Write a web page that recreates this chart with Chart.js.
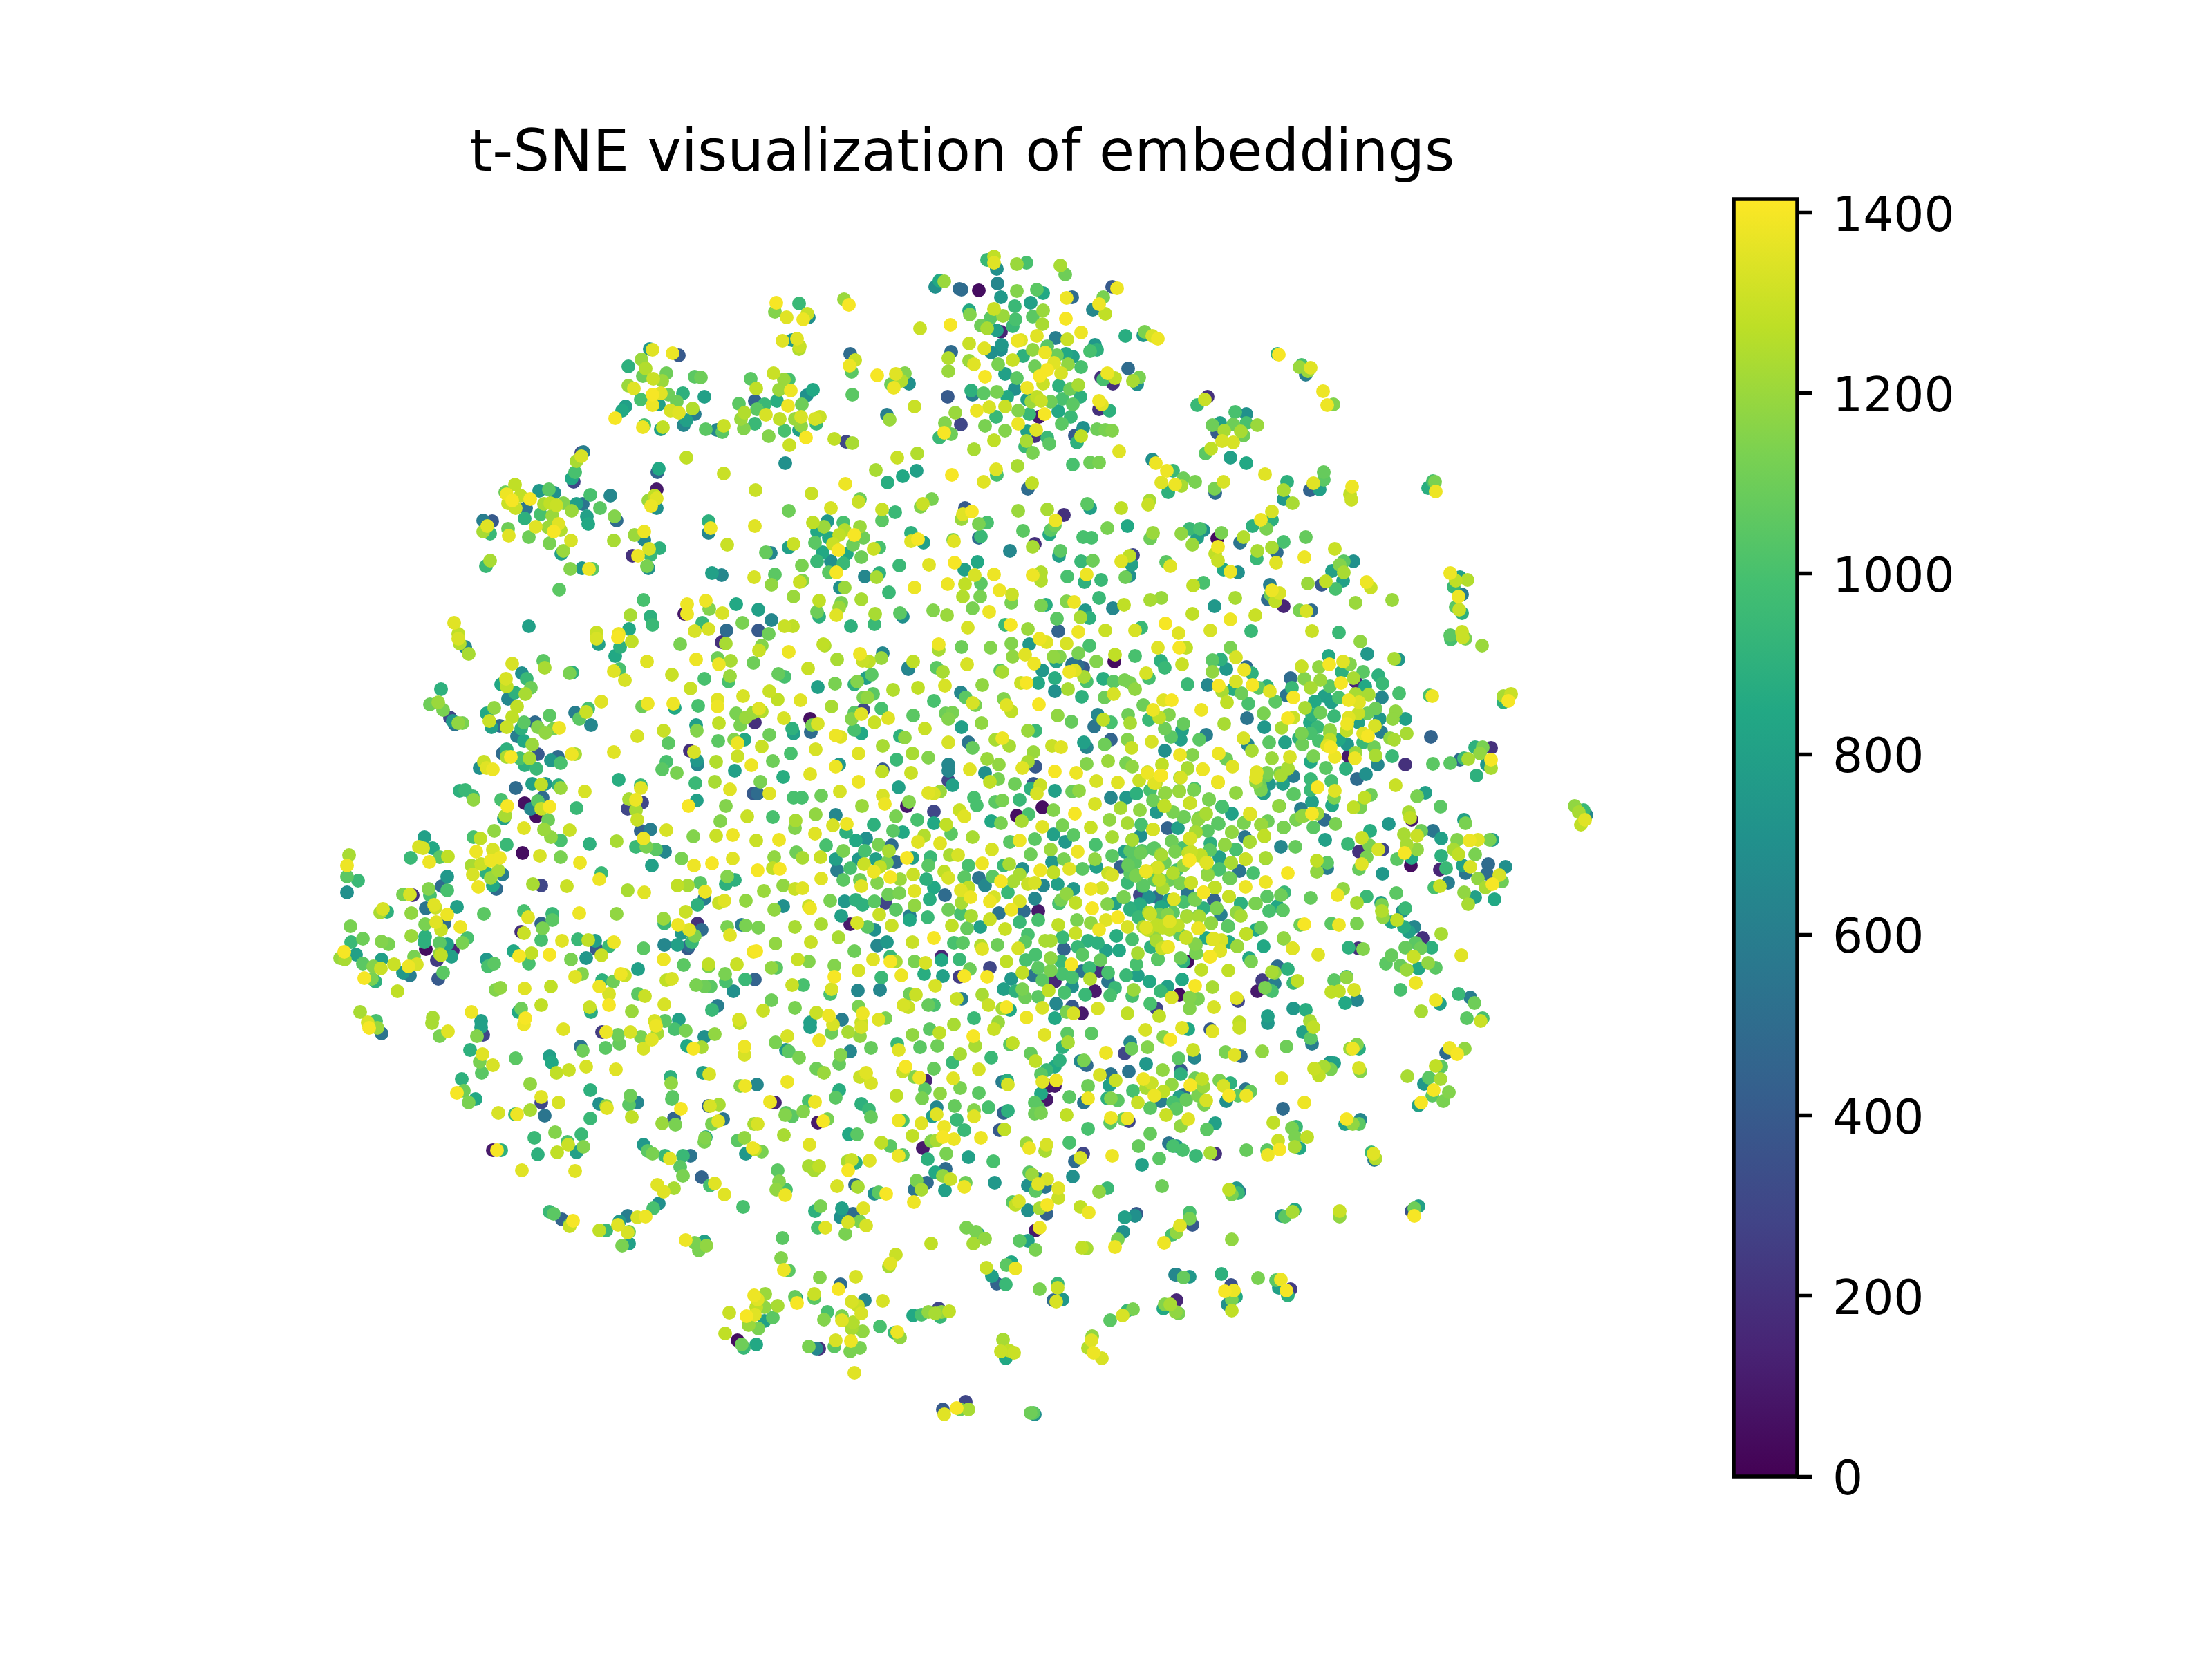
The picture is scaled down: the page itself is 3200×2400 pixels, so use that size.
<!DOCTYPE html>
<html lang="en">
<head>
<meta charset="UTF-8">
<title>t-SNE visualization of embeddings</title>
<script src="https://cdn.jsdelivr.net/npm/chart.js"></script>
<style>
  body { margin: 0; background: #fff; }
  canvas { position: absolute; top: 0; }
</style>
</head>
<body>
<canvas id="embedChart" width="2400" height="2400" style="left:0"></canvas>
<canvas id="colorbar" width="800" height="2400" style="left:2400px"></canvas>
<script>
// points are [x, y, value]. the axes are hidden so the units are just picture units
const northWest = [
[1353,415,700],[1366,407,1200],[1359,406,850],[1388,418,500],[1123,438,1400],[1121,451,1150],[1156,439,950],[1138,459,1350],[1170,459,700],[1162,462,1380],[1168,454,1300],[1221,433,1200],[1228,441,1400],[1331,475,1300],[1375,470,1400],[1146,492,750],[1132,493,1350],[1153,490,1350],[1156,505,1250],[1157,501,1300],[1230,512,500],[1237,521,1300],[1229,529,1380],[1232,538,1050],[1376,509,500],[1372,518,1250],[1372,537,1200],[1371,574,400],[1269,543,1400],[1296,541,1350],[1309,540,1150],[1315,555,700],[1289,556,1100],[1304,551,1250],[1293,561,1380],[1233,571,1050],[1323,588,1300],[1283,600,600],[1287,607,1200],[1382,597,1200],[1367,612,1150],[1366,626,1400],[1359,633,950],[1376,628,1100],
[940,505,750],[944,506,1350],[973,511,1380],[982,514,400],[909,530,900],[928,520,1200],[934,533,1250],[964,540,1100],[930,544,1100],[945,548,1300],[958,551,1200],[909,558,1200],[917,562,1350],[1014,546,1100],[1005,545,1050],[927,578,1000],[944,571,1400],[956,569,1350],[967,571,1100],[988,569,900],[1019,574,800],[953,585,800],[944,586,1380],[979,581,1100],[970,594,1330],[982,597,1350],[1002,591,1250],[1005,599,600],[993,608,800],[989,615,650],[905,588,800],[900,594,850],[890,605,1400],[930,618,1380],[932,615,1000],[959,618,1280],[956,621,800],[1021,621,1050],[1037,622,650],[1045,625,1050],[1047,616,1300],
[1086,548,1050],[1094,562,1280],[1119,540,1300],[1134,549,1200],[1141,549,1000],[1127,564,1200],[1144,565,1380],[1176,564,850],[1167,572,700],[1092,580,450],[1069,584,1050],[1124,580,880],[1106,585,950],[1095,592,1050],[1077,597,1250],[1072,606,1200],[1092,613,950],[1076,620,1150],[1140,587,1380],[1160,585,1100],[1108,600,1330],[1128,606,1280],[1150,606,1200],[1159,603,1330],[1159,616,1180],[1179,606,1330],[1186,603,1300],[1181,613,950],[1135,623,1000],[1156,622,800],[1112,631,1150],[1166,633,1400],[1142,644,1300],[1207,635,1280],[1224,639,300],[1233,641,1230],
[993,662,1280],[953,678,850],[951,683,450],[1047,685,1300],[1136,670,700],[1093,709,1300],[1174,714,1300],[1223,700,1380],[1298,662,1300],[1327,656,1250],[1267,680,1230],[1326,681,800],[1306,689,850],[1284,698,880],[1377,687,1400],
[841,655,300],[844,654,600],[841,660,1330],[834,667,1230],[832,683,1000],[827,692,850],[830,697,300],
[731,712,1100],[745,701,1280],[733,715,1380],[741,724,1400],[735,728,1300],[746,735,1300],[767,722,1400],[753,717,1280],[761,735,550],[780,710,750],[794,708,1050],[802,713,700],[787,729,1230],[796,728,1280],[805,731,1300],[815,728,1150],[834,729,800],[843,729,550],[854,716,1000],[883,717,650],[827,739,1200],[782,744,1000],[799,746,1200],[759,750,900],[849,747,800],[851,758,850],[868,735,1050],[889,747,1150],[892,753,500],
[699,753,600],[712,754,400],[705,761,1350],[699,769,1230],[709,772,950],[735,765,1100],[736,775,1350],[765,777,1100],[775,762,1350],[793,763,1200],[808,758,1350],[801,769,1400],[811,767,1250],[795,786,1130],[826,782,1330],[815,797,1200],[812,801,800],
[950,708,100],[947,717,1280],[950,721,1350],[938,724,1200],[942,732,1380],[950,735,700],[888,782,1230],[918,774,1200],[932,769,1380],[932,781,650],[954,793,900],[939,794,1330],[923,804,1380],[915,804,200],[941,803,950],[936,819,1130],[938,822,700],[709,811,1230],[703,819,950],[825,823,1150],[842,822,750],[852,823,1380],[857,823,1050],[809,853,1050],[931,868,1000],
[1052,788,1300],[1028,764,1380],[1025,754,900],[1025,771,650],[1092,761,1350],[1141,739,1100],[1108,799,1080],[1115,800,650],[1148,787,1300],[1141,792,800],[1030,829,800],[1044,832,650],[1091,835,1330],[1121,831,1050],[1116,846,1180],[1157,842,1300],[1161,840,1150],[1148,863,1200],[1185,869,1280],[1217,872,1130],[1182,885,1100],[1185,892,900],[1210,890,1350],[1214,879,1200],[1246,867,1230],[1266,888,1230],[1265,903,950],[1231,906,900],
[1176,756,1280],[1197,754,750],[1192,762,1200],[1182,769,850],[1220,756,1000],[1222,767,1250],[1214,774,1280],[1236,774,1400],[1244,762,1200],[1249,778,1100],[1199,778,850],[1179,785,1050],[1205,787,1300],[1213,796,1400],[1190,799,850],[1234,788,1100],[1225,801,850],[1182,812,950],[1202,812,700],[1220,815,950],[1246,806,1100],[1199,828,1050],[1210,828,1400],[1160,818,1130],
[1264,794,1300],[1272,792,1000],[1251,834,650],[1268,835,1230],[1272,829,900],[1301,818,950],[1344,817,1350],[1381,814,1400],[1215,850,700],[1222,850,1200],[1286,857,950],[1323,850,1380],[1371,845,1380],[1302,887,1050],[1306,892,700],[1350,883,1150],[1370,890,1200],[1276,737,1300],[1295,741,950],[1276,753,1050],[1202,735,1330],[1242,726,1300],[1244,722,1100],[1335,729,1300],[1348,722,1130],[1332,733,1150],[1318,771,900],[1318,783,1350],[1328,780,1400],[1336,785,800],[1379,781,1130],[1380,783,1350],[1391,751,1200],
[994,874,1380],[994,888,1380],[990,888,100],[1021,869,1380],[1026,881,1150],[1045,887,1330],[1065,874,850],[1097,882,800],[1116,897,650],[1074,901,1130],[912,890,1230],[941,892,900],[944,904,950],[910,910,850],[765,906,800],[657,901,1350],[663,917,1280],[1147,906,1280],[1135,906,1300],[1051,912,500],[1097,912,400],[1025,910,1330],[1005,913,1330],[1016,901,950],[863,915,1300],[895,917,1380],[1112,917,1100]
];
const northEast = [
[1428,376,950],[1438,371,1280],[1438,380,1350],[1442,389,700],[1471,382,1200],[1485,380,1000],[1534,384,1230],[1541,397,1100],[1391,419,500],[1416,420,50],[1443,410,650],[1448,430,750],[1471,421,1150],[1500,419,1050],[1509,424,850],[1491,438,800],[1468,443,950],[1543,431,1380],[1551,430,500],[1616,417,1380],[1609,415,400],[1590,440,1380],[1596,430,1130],[1599,454,1280],[1581,448,650],[1402,449,850],[1403,455,1150],[1438,447,1300],[1451,457,1200],[1509,449,1200],[1494,458,1050],[1542,461,1400],[1508,469,1230],[1469,462,1000],[1465,472,950],[1433,460,1050],[1419,471,1100],[1428,475,1230],[1442,478,800],[1448,480,150],[1500,486,1350],[1564,481,1380],[1527,489,600],[1544,491,1300],[1477,492,1350],[1472,493,1380],[1628,486,880],[1656,480,1130],[1654,485,750],[1667,486,1330],[1675,490,1380],
[1402,497,1300],[1424,504,1350],[1449,499,750],[1448,506,700],[1434,510,700],[1587,506,900],[1577,508,1000],[1584,499,750],[1494,506,1180],[1512,510,1380],[1515,501,1050],[1480,515,900],[1542,512,850],[1552,516,800],[1529,514,1100],[1525,525,1350],[1465,521,1300],[1444,527,1130],[1409,527,1350],[1402,522,1200],[1497,530,1100],[1515,535,1400],[1545,527,1180],[1564,531,1000],[1504,544,1400],[1535,540,1330],[1471,547,1050],[1454,541,800],[1425,545,1400],[1632,533,500],[1602,540,1380],[1593,546,200],[1596,549,1000],[1613,547,1280],[1610,555,200],[1639,551,1230],[1648,546,1130],[1645,556,700],[1509,555,1300],[1486,561,1380],[1532,558,900],[1548,563,1100],[1560,557,1230],[1405,565,900],[1407,571,600],[1423,569,1050],[1442,567,1130],[1457,574,850],[1468,563,700],[1563,574,900],[1537,577,1000],[1500,574,1280],[1492,581,1200],[1506,580,1300],[1520,581,1100],[1486,578,800],[1590,580,1380],[1594,585,1350],[1590,592,200],[1605,594,900],[1552,585,1050],[1413,594,1380],[1431,589,1330],[1454,588,1300],[1473,594,1150],[1489,599,950],[1511,599,1400],[1503,603,100],[1531,595,850],[1549,603,950],[1441,603,950],
[1473,613,1380],[1425,616,1130],[1536,613,1050],[1454,623,1150],[1499,622,1350],[1497,631,200],[1390,614,300],[1486,624,800],[1567,619,700],[1587,621,1100],[1599,622,1130],[1609,623,1150],[1564,631,1280],[1558,640,900],[1555,630,400],[1515,633,950],[1518,642,1050],[1485,638,1230],[1483,646,950],[1494,655,1130],[1438,637,1280],[1409,650,1230],[1619,653,1350],[1552,672,1000],[1577,669,1100],[1590,669,1130],[1472,674,1230],[1441,679,1350],[1442,687,1000],[1423,697,1350],[1493,699,1280],[1487,707,500],
[1850,513,1400],[1848,512,900],[1883,528,1000],[1880,531,1200],[1896,532,1350],[1889,542,600],[1892,537,1200],[1914,566,1380],[1920,586,1380],[1929,585,1150],[1743,578,1300],[1732,586,950],[1747,574,200],[1787,596,1000],[1803,599,700],[1765,612,800],[1754,615,1100],[1784,614,1100],[1803,612,1000],[1819,615,1200],[1761,626,400],[1771,623,1230],[1795,624,1230],[1768,638,1330],[1784,640,1330],[1799,630,1100],[1752,649,1280],[1744,656,1050],[1780,662,800],[1803,670,850],[1830,686,1350],
[1672,670,1380],[1667,665,700],[1688,681,1380],[1697,681,950],[1712,692,1100],[1729,697,1130],[1680,698,1350],[1700,701,1380],[1709,703,1230],[1690,712,900],[1770,697,1330],[1757,707,1130],[1758,713,500],[1862,697,900],[1857,709,1230],[1857,722,750],[1870,728,1230],[1895,709,450],[1909,708,800],[1915,683,1080],[1915,694,1050],[1900,699,1350],[1956,704,1380],[1953,715,1280],[1955,723,1300],[2073,696,1000],[2076,697,1130],[2066,706,880],[2077,711,1380],
[1663,724,1230],[1661,730,1300],[1573,729,1050],[1577,735,800],[1539,745,200],[1515,737,1230],[1473,739,1200],[1622,735,1280],[1527,753,1380],[1526,760,1100],[1520,767,1050],[1518,773,850],[1428,756,1000],[1416,758,1130],[1406,740,1400],[1393,744,1350],[1396,735,400],[1480,768,1050],[1419,776,950],[1416,778,500],[1602,764,1130],[1631,761,850],[1567,777,1000],[1579,778,1000],[1668,771,1200],[1664,779,1100],[1497,787,200],[1494,791,1230],[1461,797,650],[1534,797,1050],[1532,804,800],[1414,813,850],[1709,772,1180],[1721,765,950],[1736,765,1000],[1732,778,800],[1725,788,1200],[1741,767,700],[1767,771,1130],[1761,779,50],[1762,791,1380],[1758,801,1280],[1762,811,1300],[1799,777,1250],[1794,785,550],[1812,761,900],[1840,740,1330],[1824,752,1380],[1840,752,900],[1832,765,1130],[1857,784,1000],[1889,777,1080],[1819,797,1230],[1818,808,950],[1840,792,1230],[1847,799,500],[1846,814,1350],[1887,806,1380],[1931,794,1300],
[1687,813,1050],[1693,819,1350],[1564,812,950],[1581,811,1100],[1622,812,1350],[1634,804,1280],[1639,803,300],[1637,817,800],[1944,812,1050],[1958,812,700],[1938,817,1150],[1927,826,800],[1944,828,1230],[1943,840,800],[1780,827,1380],[1770,824,850],[1791,828,700],[1410,832,1330],[1438,831,1380],[1395,824,800],[1494,832,1380],[1506,828,1250],[1506,840,1250],[1544,834,1000],[1572,831,1380],[1569,842,900],[1593,839,950],[1628,835,1100],[1634,833,700],[1396,845,1280],[1419,844,1050],[1446,854,1380],[1464,860,1300],[1463,872,1130],[1418,863,1130],[1393,863,1250],
[1726,847,1280],[1741,843,1000],[1892,844,1200],[1918,841,1280],[1912,846,400],[1932,852,1000],[1977,842,1380],[1983,850,1300],[2014,868,1200],[1961,872,1200],[2098,829,1380],[2112,835,800],[2106,840,1280],[2123,839,1250],[2103,849,950],[2115,860,600],[2110,863,1380],[2106,878,1050],[2111,882,1300],[2115,887,900],[1840,854,1380],[1851,858,1330],[1837,846,600],[1834,867,500],[1845,870,1280],[1857,877,150],[1838,860,1100],[1880,883,1130],[1890,884,1330],[1897,883,500],[1816,890,1300],[1787,865,1230],[1757,877,750],[1725,888,1280],[1780,896,1380],[1686,902,1400],[1751,912,1330],[1705,916,1350],[1642,912,1330],[1651,908,950],[1599,912,1300],[1560,914,1380],[1531,913,450],[1529,895,1050],[1563,893,1230],[1576,894,900],[1570,883,750],[1487,910,1200],[1462,904,1400],[1454,904,950],[1400,908,1330],[1431,885,1380],[1407,880,1130],[1506,876,1130],[1513,875,880],[1543,870,1150],[1554,871,1380],[1590,865,950],[1610,880,650],[1626,875,1280],[1664,868,1230],[1680,865,1200],[1810,913,950],[1898,913,1300],[1937,915,950],[2115,914,1300],[2098,919,1050]
];
const west = [
[678,946,1230],[665,931,1250],[663,924,1330],[673,936,650],[786,956,1050],[788,966,1230],[741,960,1330],[824,974,1130],[828,973,900],[936,957,1350],[888,971,1350],[896,968,1000],[904,984,1330],[890,949,850],[897,936,900],[914,928,1280],[866,932,800],[863,924,1330],[894,922,1400],[984,932,1130],[1007,954,1380],[972,976,1300],[1019,982,1000],[999,996,1300],[1040,961,1380],[1038,952,1100],[1057,956,1230],[1050,931,1230],[1044,929,200],[1056,978,1200],[1054,986,1000],
[732,982,1330],[733,993,1280],[725,990,850],[755,974,700],[762,982,950],[768,995,1100],[760,1004,1230],[745,1002,900],[735,1011,650],[748,1022,1280],[715,1024,1180],[704,1032,850],[708,1043,1300],[711,1052,800],[723,1050,500],[733,1052,1300],[741,1037,1280],[758,1045,1050],[754,1054,900],[748,1065,600],[758,1072,850],[770,1077,1200],[774,1045,500],[778,1052,1150],[795,1035,1050],[789,1060,1180],[809,1053,1380],[801,1054,1130],
[638,997,900],[634,1016,1200],[622,1019,1100],[641,1027,1130],[651,1038,300],[655,1043,750],[658,1048,550],[663,1046,1180],[669,1046,1130],[832,1031,600],[848,1030,1300],[851,1025,1000],[838,1040,1050],[855,1049,650],[870,1015,1350],[937,1018,1380],[929,1022,1100],[974,1018,1380],[976,1024,850],[1010,1021,1000],[1038,1012,1350],[1038,1022,1380],[1075,1007,1330],[1065,1032,1130],[1079,1038,1200],[1071,1049,1130],[1089,1031,1200],[1007,1049,800],[1008,1057,1150],[1040,1046,1280],[960,1057,1300],[922,1065,1330],[967,1075,1050],[888,1088,1350],[1039,1072,1050],[1062,1070,1150],[1067,1075,1380],[1077,1070,850],[1004,1088,1330],[998,1086,200],[1008,1100,750],[1009,1106,650],[1036,1102,1250],[1067,1094,1300],[1063,1115,800],[1087,1107,1380],[964,1102,1000],[958,1113,1050],[979,1118,1130],
[733,1084,900],[727,1090,500],[733,1095,1230],[739,1095,1400],[766,1097,1230],[759,1107,900],[776,1112,950],[778,1091,400],[752,1097,1000],[797,1100,750],[811,1104,1000],[807,1095,500],[827,1091,1380],[832,1091,1230],[700,1102,1300],[704,1111,1350],[713,1113,1380],[694,1111,700],[746,1140,500],[770,1134,800],[783,1135,1280],[789,1134,750],[811,1140,1200],[808,1136,900],[846,1145,1330],[895,1128,880],[927,1140,1350],[927,1136,950],[665,1144,900],[673,1143,950],[685,1157,1180],[684,1152,950],[725,1157,1000],[734,1166,1400],[731,1180,1230],[729,1184,800],[759,1162,60],[768,1170,650],[776,1181,60],[778,1159,1050],[785,1154,500],[783,1170,1300],[795,1167,1400],[793,1186,1100],[834,1169,950],[910,1156,1230],[920,1157,1380],[929,1161,300],[908,1170,300],[920,1172,1230],[922,1186,1300],[1008,1158,800],[996,1166,1400],[1050,1166,1150],[1034,1131,1230],[1006,1133,950],[1056,1142,1350],[1090,1148,400],[1042,1188,1150],[1081,1181,1300],
[715,1202,1180],[685,1211,1000],[695,1213,1280],[614,1211,800],[594,1241,950],[606,1225,1330],[612,1227,1330],[626,1227,850],[636,1240,1050],[648,1239,1280],[621,1247,1380],[733,1222,950],[713,1229,1330],[689,1232,1380],[756,1234,50],[758,1198,1350],[781,1238,1330],[811,1240,1130],[839,1248,1380],[853,1221,900],[824,1201,1300],[787,1200,1200],[797,1211,1180],[811,1216,1000],[892,1217,1230],[964,1201,1330],[941,1200,600],[927,1202,450],[931,1213,1380],[920,1225,950],[935,1225,1130],[949,1229,1050],[962,1232,650],[943,1252,800],[986,1242,1130],[1004,1252,1380],[1030,1249,1400],[1060,1242,1350],[1003,1210,1150],[1036,1209,1300],[1060,1208,1380],
[505,1237,1230],[502,1252,1380],[502,1268,1050],[518,1274,950],[502,1291,700],[684,1265,1330],[692,1283,1380],[682,1252,1230],[696,1250,1300],[710,1245,1380],[723,1241,1380],[704,1263,900],[721,1259,1230],[727,1265,600],[710,1270,1200],[713,1281,850],[718,1286,500],[771,1279,1230],[783,1281,300],[820,1282,1300],[867,1272,1380],[870,1263,950],[908,1288,1230],[932,1291,1350],
[647,1268,750],[647,1288,1000],[639,1282,500],[620,1286,1150],[628,1309,1350],[630,1313,1300],[661,1312,800],[647,1323,1380],[616,1314,550],[593,1294,1330],[583,1294,1130],[597,1295,200],[622,1295,1000],[554,1315,1330],[550,1320,1230],[560,1319,900],[595,1321,1180],[700,1322,1050],[764,1327,1350],[758,1318,1000],[799,1331,1050],[799,1322,950],[783,1336,450],[785,1343,1130],[758,1350,1300],[754,1348,200],[783,1360,1000],[838,1321,1380],[892,1322,1180],
[615,1337,1130],[631,1334,1350],[638,1345,1300],[615,1355,900],[614,1363,900],[643,1336,500],[666,1341,1380],[676,1357,1000],[669,1364,1130],[595,1354,1200],[507,1340,1130],[525,1358,1100],[508,1363,950],[552,1362,1150],[562,1366,1130],[636,1364,1050],[616,1373,50],[636,1380,1180],[647,1366,800],[655,1375,150],[653,1384,800],[638,1382,1280],[632,1389,250],[641,1407,1050],[634,1416,400],[498,1377,1400],[492,1386,1200],[499,1388,1230],[515,1381,800],[525,1394,1050],[540,1398,1150],[552,1388,800],[551,1401,1300],[570,1395,1300],[593,1411,600],[583,1407,750],[591,1398,1380],[603,1395,1330],[599,1384,1130],[527,1415,1400],[538,1416,1130],[543,1420,900],[575,1434,1280],
[704,1388,750],[706,1398,1000],[715,1394,1050],[743,1376,850],[751,1383,1400],[769,1379,1280],[795,1381,1400],[765,1394,1000],[826,1388,1130],[848,1386,750],[870,1382,1300],[863,1373,400],[888,1363,1380],[881,1369,950],[851,1360,1280],[836,1359,950],[813,1361,1350],[861,1361,800],[931,1372,1050],[961,1367,650],[980,1367,800],[997,1368,500],[960,1388,1380],[989,1396,1050],[1025,1395,1280],[1066,1395,1300],[960,1329,1200],[961,1336,950],[992,1319,1300],[1009,1309,900],[1020,1290,1380],[1019,1300,600],[1013,1277,1050],[995,1281,1230],[980,1281,1280],[1040,1306,1300],[1048,1303,1350],[1079,1303,1180],[1052,1268,1150],[1063,1273,900],[1050,1279,900],[981,1338,1380],[997,1345,1350],[1015,1345,500],[1009,1336,200],[1005,1354,1130],[1001,1363,950],[995,1372,400],[986,1350,750],[1052,1341,1130],[1056,1353,1350],[1079,1339,1130],[1073,1338,600],[1090,1377,1380],[1025,1398,1130],[1049,1409,1130],[1050,1420,1000],[1078,1417,950],[1061,1434,700],[1007,1425,1130],[1028,1427,1050],[1019,1427,1100],[964,1418,1280],[972,1416,1330],[923,1402,800],[898,1409,1380],[904,1411,1300],[887,1420,1100],[871,1418,900],[867,1427,1380],[881,1438,1330],[881,1454,1400],[853,1457,1300],[855,1464,880],[832,1413,1350],[842,1409,1150],[933,1441,1300],[923,1438,1050],[961,1453,1330],[914,1463,1200],[724,1429,1180],[717,1432,1150],[759,1430,1350],[797,1427,1280],[754,1459,1100],[750,1464,850],[760,1473,1400],[783,1454,1280],[626,1472,1230],[682,1464,1380],[521,1464,1230],[544,1477,1000],[532,1479,1330],[1030,1461,950],[1038,1455,600],[1069,1475,1330],[982,1475,800],[962,1477,1050],[947,1477,1330],[696,1477,800]
];
const centre = [
[1098,941,1300],[1090,959,1100],[1102,934,1150],[1141,943,1380],[1191,932,1280],[1193,934,1250],[1211,954,1230],[1244,946,1380],[1248,956,1300],[1257,957,1280],[1275,952,1200],[1277,945,650],[1321,957,1280],[1314,966,650],[1358,932,1380],[1358,940,1230],[1391,936,1100],[1433,937,1150],[1463,931,1150],[1465,950,1180],[1483,947,1350],[1489,932,750],[1504,924,1380],[1514,929,1350],[1543,931,1330],[1576,934,1000],[1560,945,1130],[1524,950,1180],[1533,950,1150],[1496,960,1380],[1508,970,750],[1528,957,800],[1559,963,500],[1551,961,550],[1613,947,1280],[1612,957,50],[1642,949,1000],[1675,937,1350],[1679,956,900],[1685,966,950],[1658,974,1330],[1662,981,1000],[1586,957,1150],
[1126,975,1080],[1135,979,1000],[1169,967,1300],[1261,976,1050],[1253,981,800],[1240,986,1150],[1236,990,900],[1314,968,600],[1355,966,1050],[1364,972,1230],[1399,961,1330],[1447,970,1050],[1450,972,1230],[1485,988,1400],[1477,988,1300],[1502,988,850],[1526,981,880],[1547,972,1380],[1555,970,1350],[1567,966,400],[1568,979,1230],[1572,986,1000],[1545,997,1230],[1526,1000,700],[1565,1008,900],[1596,982,880],[1627,984,1130],[1635,988,1130],[1642,997,1180],[1611,986,1050],[1611,1004,1330],[1598,1009,1100],[1421,991,1180],[1367,992,1330],[1328,995,1280],[1292,998,1250],[1208,989,1130],[1183,994,800],[1113,1000,1300],[1125,1012,1280],[1158,1013,1350],[1203,1022,1230],[1263,1004,1050],[1249,1009,1130],[1255,1009,1180],[1351,1014,1000],[1390,1002,650],[1397,1009,1050],[1407,1017,1330],[1411,1020,1130],[1452,1011,1150],[1456,1020,1350],[1463,1029,1280],[1503,1019,1400],
[1098,1025,1350],[1102,1029,1250],[1134,1039,1330],[1092,1045,200],[1172,1040,60],[1175,1049,1130],[1183,1047,1330],[1173,1059,500],[1146,1054,900],[1148,1061,800],[1113,1063,1100],[1236,1031,1050],[1232,1040,1150],[1246,1033,1350],[1249,1027,300],[1275,1025,1000],[1265,1045,1300],[1285,1039,1350],[1236,1056,1000],[1246,1061,850],[1209,1064,1380],[1216,1066,1350],[1321,1035,1050],[1338,1054,1300],[1368,1032,1100],[1378,1031,1130],[1372,1040,1150],[1391,1052,800],[1420,1046,1180],[1530,1035,1180],[1550,1044,1080],[1588,1034,650],[1596,1041,1280],[1607,1045,1000],[1583,1051,550],[1632,1034,1100],[1635,1046,1230],[1654,1020,1100],[1668,1027,1380],[1662,1041,950],[1677,1038,1280],[1683,1013,1350],[1695,1013,1400],[1691,1034,1150],[1685,1054,1100],[1487,1057,1200],[1498,1057,950],[1309,1067,1180],[1302,1065,900],
[1277,1079,1230],[1242,1090,1350],[1180,1084,1330],[1144,1090,1000],[1102,1080,1300],[1118,1101,1100],[1133,1124,880],[1172,1120,1350],[1209,1109,1380],[1214,1106,750],[1277,1113,400],[1276,1116,1280],[1297,1099,950],[1320,1090,1230],[1343,1096,1150],[1318,1118,1300],[1372,1074,1330],[1401,1074,550],[1407,1082,1080],[1372,1106,650],[1372,1115,650],[1403,1113,1350],[1428,1098,1200],[1445,1106,1180],[1440,1070,1230],[1450,1068,1380],[1460,1079,1230],[1495,1088,1200],[1479,1111,1350],[1487,1102,1230],[1498,1109,400],[1522,1079,1300],[1535,1081,1350],[1568,1074,800],[1572,1081,650],[1607,1070,450],[1598,1077,1100],[1631,1070,1150],[1637,1082,1300],[1666,1073,1330],[1685,1086,700],[1694,1066,1050],[1526,1116,1400],[1557,1118,1380],[1572,1105,1150],[1603,1101,1200],[1629,1104,1130],[1638,1109,1180],[1660,1118,1380],[1679,1122,1400],[1681,1106,1280],[1670,1133,1350],[1425,1118,700],[1432,1131,1280],[1444,1127,1130],
[1100,1131,1130],[1113,1148,1350],[1096,1148,500],[1148,1154,1000],[1160,1154,1000],[1188,1151,1100],[1215,1145,1330],[1242,1131,1380],[1247,1166,1200],[1277,1151,1330],[1280,1163,1380],[1300,1139,800],[1315,1160,1150],[1312,1166,100],[1343,1147,1350],[1351,1148,1330],[1360,1145,1200],[1378,1136,800],[1372,1129,300],[1409,1154,1000],[1413,1165,1000],[1440,1160,1050],[1450,1158,1130],[1468,1134,1100],[1475,1157,950],[1491,1141,900],[1495,1134,400],[1505,1136,1300],[1500,1148,1330],[1508,1168,60],[1526,1144,800],[1524,1172,1150],[1551,1145,1100],[1561,1144,1180],[1607,1154,650],[1629,1154,750],[1586,1130,1330],[1617,1132,1350],[1648,1129,1300],[1584,1163,1330],[1644,1148,900],[1664,1143,1000],[1685,1148,1130],[1668,1158,1100],[1684,1166,1280],[1621,1169,1230],[1649,1172,1180],
[1118,1182,1000],[1151,1187,1230],[1150,1198,1150],[1180,1178,1180],[1209,1179,650],[1205,1194,1330],[1225,1192,1380],[1224,1204,900],[1238,1216,850],[1253,1213,700],[1264,1193,900],[1296,1181,1130],[1292,1202,1050],[1306,1204,850],[1327,1186,1000],[1351,1174,300],[1351,1191,850],[1369,1193,1280],[1376,1206,1050],[1337,1209,1250],[1328,1218,1350],[1360,1220,1350],[1388,1172,1300],[1395,1181,1350],[1434,1188,850],[1448,1191,1130],[1488,1178,1000],[1471,1180,60],[1478,1188,1230],[1508,1196,1350],[1537,1194,1130],[1555,1177,1400],[1578,1197,1300],[1605,1186,1180],[1631,1191,1230],[1651,1193,1000],[1668,1200,1330],[1673,1175,750],[1689,1198,450],[1524,1207,800],[1553,1208,1050],[1541,1218,750],[1497,1214,1050],[1475,1216,1380],[1461,1218,1050],[1407,1211,1230],[1127,1215,1380],[1179,1206,1350],[1094,1216,1300],[1609,1211,1230],[1638,1215,1100],[1650,1209,700],
[1195,1223,1000],[1152,1233,1100],[1161,1241,1230],[1187,1240,1300],[1120,1240,1180],[1118,1256,1280],[1128,1257,1400],[1096,1259,1400],[1211,1259,600],[1209,1243,800],[1220,1231,1130],[1230,1256,1000],[1251,1231,1000],[1271,1222,1130],[1286,1231,1230],[1290,1223,500],[1312,1241,1400],[1320,1241,800],[1250,1250,1300],[1264,1261,1380],[1273,1254,1280],[1283,1248,1130],[1296,1247,500],[1242,1243,750],[1267,1243,800],[1346,1240,950],[1343,1252,1050],[1321,1265,1300],[1386,1237,1330],[1374,1237,1230],[1421,1249,1380],[1401,1252,1000],[1435,1229,1330],[1460,1250,1230],[1452,1252,950],[1479,1257,700],[1475,1265,1230],[1366,1261,1280],[1491,1236,1100],[1520,1229,1200],[1522,1247,750],[1505,1259,1380],[1524,1262,1280],[1539,1243,1130],[1547,1257,1350],[1566,1257,1050],[1559,1232,1380],[1584,1243,1180],[1586,1254,800],[1609,1238,1050],[1585,1222,1000],[1627,1232,800],[1652,1231,1000],[1670,1227,1050],[1679,1236,1130],[1621,1254,450],[1633,1250,1050],[1642,1241,1050],[1658,1261,1350],[1673,1256,1250],[1685,1248,1100],[1603,1263,1300],[1609,1266,1330],
[1133,1281,1180],[1105,1289,1200],[1150,1286,1300],[1161,1285,1350],[1188,1271,1350],[1220,1273,1050],[1201,1303,1130],[1222,1304,750],[1238,1302,900],[1248,1309,900],[1244,1273,1100],[1246,1282,1350],[1269,1277,1150],[1288,1269,1400],[1302,1272,1200],[1323,1289,1350],[1285,1294,1100],[1301,1292,1130],[1265,1304,1050],[1281,1306,300],[1296,1316,1050],[1323,1310,1180],[1340,1272,900],[1351,1284,850],[1345,1301,880],[1367,1295,500],[1372,1270,1330],[1395,1269,1050],[1416,1270,550],[1425,1281,650],[1390,1288,1350],[1401,1284,1280],[1404,1298,1380],[1391,1306,1230],[1436,1268,1050],[1448,1275,1400],[1466,1275,1230],[1458,1291,950],[1487,1279,1300],[1497,1277,1330],[1509,1281,650],[1530,1279,800],[1553,1286,750],[1497,1300,650],[1475,1304,1330],[1463,1316,1380],[1438,1298,1330],[1432,1304,1380],[1535,1302,1130],[1543,1293,1180],[1532,1307,1000],[1556,1306,1280],[1578,1286,1380],[1594,1285,1330],[1580,1314,1400],[1602,1308,1150],[1613,1307,800],[1631,1277,950],[1626,1298,1130],[1649,1295,300],[1662,1298,700],[1635,1314,880],[1649,1309,880],[1644,1266,1100],[1670,1273,1050],[1681,1277,1130],[1691,1273,1100],[1673,1298,500],[1691,1302,750],
[1120,1316,1180],[1133,1311,700],[1170,1311,1300],[1172,1314,1380],[1217,1325,800],[1188,1337,1230],[1150,1341,1230],[1097,1342,1130],[1240,1335,1330],[1230,1337,100],[1255,1341,1050],[1265,1345,700],[1272,1323,1300],[1290,1339,1300],[1316,1331,850],[1316,1325,600],[1342,1327,950],[1372,1316,1100],[1390,1322,1000],[1405,1325,1230],[1418,1341,800],[1399,1343,1080],[1377,1339,1280],[1432,1330,1300],[1445,1321,550],[1454,1344,1300],[1481,1318,500],[1502,1318,100],[1502,1331,1000],[1475,1334,950],[1531,1338,1280],[1558,1331,1130],[1556,1350,1300],[1578,1335,1180],[1590,1345,1380],[1600,1331,1350],[1617,1327,1400],[1631,1341,1330],[1615,1354,880],[1537,1356,950],[1638,1359,1000],[1654,1341,1230],[1664,1322,1300],[1650,1323,880],[1677,1323,1100],[1660,1345,1280],[1673,1338,1280],[1689,1323,1150],[1692,1345,1250],
[1483,1363,1050],[1473,1372,1330],[1487,1352,1000],[1512,1361,1230],[1520,1361,1230],[1574,1361,900],[1588,1364,900],[1559,1370,950],[1566,1381,1050],[1539,1373,450],[1600,1375,800],[1619,1375,850],[1646,1379,1230],[1592,1389,1080],[1644,1395,1000],[1675,1388,1000],[1681,1372,1300],[1689,1370,1280],[1320,1363,1300],[1351,1357,1400],[1380,1364,1000],[1393,1364,1050],[1419,1368,1250],[1421,1373,1350],[1443,1367,1100],[1269,1368,650],[1283,1363,750],[1173,1363,1300],[1213,1356,1230],[1122,1365,1180],[1094,1376,1400],[1236,1376,1100],[1263,1388,1350],[1154,1388,1300],[1170,1391,1150],
[1288,1384,950],[1288,1391,1400],[1296,1391,1230],[1323,1391,1130],[1339,1393,1330],[1337,1409,880],[1362,1384,150],[1362,1389,850],[1364,1412,800],[1388,1388,950],[1403,1402,1100],[1395,1412,1400],[1388,1413,250],[1432,1400,300],[1428,1413,1400],[1456,1391,1280],[1484,1389,1000],[1498,1381,1000],[1520,1386,1180],[1535,1391,950],[1550,1395,1400],[1479,1407,1280],[1495,1411,550],[1502,1400,1050],[1520,1404,1130],[1508,1418,1050],[1537,1409,1000],[1551,1414,1000],[1526,1420,150],[1565,1405,550],[1576,1400,950],[1577,1416,1250],[1590,1405,200],[1603,1407,1000],[1629,1411,950],[1646,1411,800],[1663,1420,850],[1603,1420,550],[1613,1429,950],[1584,1434,100],[1570,1439,950],[1606,1440,1000],[1640,1432,1200],[1638,1441,1000],[1679,1434,950],[1689,1427,800],[1551,1427,700],[1540,1436,1000],[1517,1433,1280],[1502,1442,1050],[1479,1431,1130],[1463,1416,750],[1469,1434,900],[1452,1431,800],[1483,1443,1100],
[1146,1425,1300],[1162,1425,1000],[1116,1400,1180],[1123,1400,1050],[1207,1397,1150],[1207,1413,1400],[1203,1431,1330],[1201,1438,1000],[1242,1404,1330],[1275,1414,950],[1273,1432,650],[1241,1433,650],[1304,1411,1380],[1353,1426,1330],[1092,1417,450],[1325,1439,1300],[1316,1438,1100],
[1391,1445,600],[1384,1445,1300],[1421,1439,1230],[1430,1454,1300],[1456,1457,1400],[1450,1459,1230],[1461,1461,850],[1528,1452,650],[1508,1458,1330],[1553,1466,1330],[1551,1456,400],[1565,1466,100],[1588,1459,1330],[1543,1464,1130],[1485,1472,1380],[1526,1473,850],[1409,1473,950],[1444,1479,1200],[1343,1454,1080],[1351,1454,1000],[1307,1454,1330],[1314,1457,1300],[1242,1456,1130],[1248,1466,1380],[1246,1479,1300],[1271,1475,1350],[1281,1473,1130],[1218,1475,600],[1199,1469,1380],[1181,1465,1300],[1172,1479,800],[1150,1458,1130],[1104,1462,1300],[1116,1447,1100],[1631,1466,1280],[1664,1452,1000],[1673,1459,300],[1695,1443,1330],[1677,1470,1280]
];
const coreCluster = [
[1722,1213,1330],[1720,1245,1400],[1730,1203,1150],[1668,1200,1230],[1695,1217,1100],[1680,1237,1230],[1700,1232,1130],[1750,1230,1050],[1737,1237,1280],[1723,1232,1300],[1745,1248,1330],[1638,1215,1230],[1652,1232,1050],[1668,1228,1050],[1632,1252,1080],[1643,1267,1130],[1658,1260,1380],[1675,1255,1330],[1677,1273,1280],[1692,1273,1050],[1682,1285,1230],[1653,1282,950],[1707,1278,1100],[1723,1277,1300],[1747,1266,1180],[1763,1258,1000],[1781,1248,1230],[1772,1222,1180],[1788,1229,1000],[1757,1284,1230],[1741,1291,1400],[1778,1270,1080],[1778,1297,1300],[1795,1307,850],[1817,1307,1130],[1698,1301,1350],[1729,1302,1130],[1712,1305,1000],[1680,1312,850],[1649,1308,800],[1635,1316,900],[1625,1298,1130],[1663,1322,1230],[1647,1327,950],[1678,1330,950],[1697,1320,1050],[1717,1326,1230],[1735,1326,1230],[1760,1314,1130],[1752,1336,1180],[1733,1343,1350],[1692,1333,1350],[1692,1343,1280],[1658,1342,1350],[1682,1342,1280],[1670,1350,1180],[1707,1352,1050],[1716,1357,1280],[1690,1370,1380],[1682,1370,1180],[1665,1370,900],[1675,1387,1050],[1730,1367,1130],[1730,1379,1050],[1750,1384,1400],[1765,1376,1300],[1756,1358,1350],[1767,1360,1330],[1790,1369,1180],[1777,1340,1000],[1803,1351,1180],[1857,1358,1130],[1870,1372,1330],
[1685,1166,1280],[1697,1175,1130],[1706,1144,1130],[1686,1147,1180],[1660,1117,1280],[1680,1122,1400],[1672,1133,1280],[1707,1125,1180],[1718,1112,1230],[1740,1113,1380],[1762,1132,1350],[1727,1143,1130],[1722,1162,1300],[1749,1157,1130],[1745,1177,1230],[1735,1183,1130],[1713,1182,1050],[1763,1192,1050],[1782,1204,1180],[1768,1167,1000],[1808,1177,1350],[1800,1190,1130],[1825,1193,1200],[1829,1209,1280],[1808,1218,1230],[1802,1243,1300],[1831,1242,1180],[1857,1197,1050],[1851,1166,1130],[1818,1117,1350],[1833,1118,1130],[1863,1112,1230],[1853,1122,1230],[1823,1137,1100],[1872,1149,1050],[1887,1180,1150],
[1635,1231,1050],[1642,1248,1050],[1650,1234,1100],[1635,1263,1050],[1654,1281,1050],[1677,1272,1130],[1697,1263,1250],[1662,1320,1230],[1685,1339,1280],[1673,1361,1230]
];
const east = [
[1706,937,1400],[1716,937,1280],[1710,961,1300],[1718,990,950],[1754,955,1050],[1766,954,900],[1780,937,1130],[1788,951,1330],[1803,965,500],[1754,972,1180],[1800,969,1380],[1774,968,750],[1747,991,650],[1763,992,1400],[1768,1000,1230],[1788,986,1330],[1784,997,880],[1796,1003,1100],[1812,991,1400],[1811,974,900],[1821,995,1050],[1833,993,900],[1837,1000,1350],[1845,1015,1050],[1806,1018,1000],[1775,1016,1280],[1738,1027,1380],[1804,1039,550],[1771,1047,1230],[1828,1032,1130],[1829,1052,750],[1854,1053,1230],[1863,1039,1400],[1871,1038,1300],[1710,1056,800],[1712,1047,1080],[1708,1070,800],[1745,1063,600],[1735,1070,1050],[1799,1068,1330],[1811,1086,1230],[1805,1077,650],[1836,1074,1050],[1859,1074,800],[1763,1090,1380],[1774,1098,1100],[1783,1109,1350],[1725,1092,1150],[1707,1092,1380],[1718,1111,1200],[1740,1113,1330],[1708,1125,1330],[1728,1141,1000],[1762,1131,1380],[1788,1147,1180],[1706,1145,1200],[1721,1162,1280],[1749,1156,1130],[1768,1167,950],[1782,1177,800],[1744,1178,1180],[1733,1186,1180],[1712,1182,1100],[1809,1178,1330],[1799,1191,1130],
[1817,1125,1350],[1819,1118,800],[1832,1122,1100],[1817,1131,1180],[1824,1143,1130],[1828,1148,800],[1836,1134,750],[1840,1097,1200],[1852,1118,1130],[1863,1111,1230],[1866,1095,1330],[1856,1134,800],[1871,1123,600],[1850,1166,1180],[1871,1149,1050],
[1867,981,500],[1883,964,1300],[1887,982,1150],[1869,995,950],[1871,1009,1400],[1861,1006,550],[1888,1024,1230],[1896,995,1230],[1908,965,1180],[1923,961,1400],[1922,949,850],[1943,957,1350],[1953,961,1150],[1910,984,1200],[1924,993,1050],[1940,988,1400],[1958,981,1230],[1961,986,150],[1941,972,900],[1972,972,1050],[1978,946,750],[1975,993,850],[1994,977,900],[2000,989,950],[1980,1005,1230],[1999,1009,650],[1968,928,1180],[2017,953,1230],[2023,954,750],[2024,1003,1000],[1916,1007,800],[1902,1015,850],[1926,1016,800],[1937,1009,1000],[1951,1013,1380],[1961,1004,1230],[1966,1016,1350],[1990,1025,1100],[1978,1032,1100],[1965,1032,1300],[1951,1038,1350],[1949,1047,1380],[1910,1031,1100],[1930,1036,950],[1898,1034,900],[1895,1045,850],[1906,1052,950],[1924,1056,1180],[1948,1057,1280],[1965,1045,800],[1996,1040,750],[2019,1029,1180],[2033,1040,800],[2015,1040,1180],[1989,1050,1330],[1972,1061,1350],[1979,1065,1400],[1998,1059,600],[2035,1061,1230],[2017,1070,1230],[2011,1068,1180],[1883,1061,1130],[1896,1061,1000],[1879,1068,900],[1884,1077,1100],[1908,1072,1000],[1924,1061,1180],[1924,1070,1280],[1920,1079,1350],[1925,1081,1400],[1949,1077,750],[1937,1070,850],[1972,1074,950],[1988,1081,1100],[1990,1093,1230],[1900,1094,1130],[1896,1102,850],[1931,1095,1380],[1961,1089,1200],[1960,1097,1380],[1951,1094,100],[1918,1111,1050],[1947,1112,900],[1976,1120,700],[1963,1127,500],[1993,1106,650],[2014,1094,950],[2033,1106,200],[2019,1136,1300],
[1896,1127,950],[1906,1139,1400],[1926,1130,1000],[1931,1144,1350],[1930,1154,1130],[1927,1165,850],[1896,1143,950],[1898,1160,800],[1882,1170,600],[1898,1177,1400],[1883,1181,1180],[1875,1186,1130],[1906,1177,1200],[1900,1197,1050],[1916,1186,500],[1932,1192,1130],[1917,1215,800],[1857,1197,1130],[1824,1193,1180],[1834,1188,1100],[1829,1210,1230],[1808,1218,1230],[1801,1211,550],[1853,1225,650],[1874,1225,1080],[1950,1221,950],[1905,1245,1280],[1920,1248,1050],[1920,1256,600],[1905,1261,1180],[1863,1263,1400],[1831,1276,1380],[1831,1241,1230],[1802,1243,1300],[1813,1263,1000],[1793,1260,550],[1802,1283,1380],[1780,1271,1100],[1772,1222,1130],[1788,1229,1000],[1781,1248,1180],[1782,1204,1130],[1762,1191,1050],[1747,1202,1050],[1730,1204,1230],[1721,1213,1330],[1751,1220,900],[1750,1230,1050],[1764,1240,800],[1764,1257,1000],[1746,1248,1350],[1747,1264,1130],[1735,1238,1280],[1719,1234,1280],[1721,1244,1400],[1712,1252,1180],[1710,1227,1000],[1704,1198,800],[1702,1259,1000],
[1708,1277,1130],[1723,1277,1230],[1741,1291,1400],[1758,1284,1280],[1756,1302,450],[1718,1291,550],[1728,1300,1100],[1778,1297,1230],[1795,1307,900],[1816,1307,1130],[1833,1297,1050],[1853,1295,1100],[1858,1291,950],[1836,1318,1000],[1848,1311,850],[1856,1317,1050],[1760,1314,1130],[1766,1323,600],[1741,1314,900],[1717,1325,1150],[1734,1325,1150],[1789,1320,1180],[1795,1325,1230],[1752,1335,1180],[1776,1340,1050],[1734,1343,1380],[1704,1339,1280],[1824,1342,1080],[1817,1345,850],[1803,1351,1280],[1716,1356,1300],[1729,1366,1150],[1731,1379,1130],[1754,1359,1330],[1764,1361,1280],[1745,1357,850],[1751,1384,1400],[1765,1375,1350],[1778,1363,850],[1790,1369,1200],[1828,1369,850],[1857,1357,1180],[1870,1372,1350],[1708,1386,1100],[1718,1391,50],[1712,1391,900],[1738,1403,1280],[1777,1404,1280],[1810,1391,1130],[1807,1386,850],[1710,1417,850],[1729,1426,1400],[1754,1428,1230],[1789,1444,1350],[1791,1448,300],[1756,1457,1330],[1706,1439,50],[1721,1443,1150],[1733,1445,1130],[1721,1459,1150],[1840,1406,1230],[1844,1407,1180],[1848,1398,500],[1863,1402,900],[1877,1419,1280],[1871,1422,950],[1844,1423,600],[1830,1429,1130],[1840,1434,1000],[1819,1434,100],[1826,1418,250],[1834,1470,800],[1871,1459,750],[1889,1461,880],[1895,1477,1230],[1793,1479,1280],
[1887,1337,1400],[1881,1338,1100],[1896,1299,1080],[1935,1295,1380],[1943,1286,1180],[1963,1306,1230],[1977,1297,950],[2020,1292,1050],[1999,1309,1130],[1998,1306,800],[1999,1318,1250],[2001,1327,1180],[2033,1314,950],[2029,1318,700],[2021,1331,1280],[2013,1334,850],[2031,1341,880],[2046,1341,650],[2038,1348,800],[1926,1336,1050],[1937,1338,1380],[1963,1336,1130],[2058,1357,200],[2048,1364,1050],[2071,1371,900],[2055,1372,1100],[2033,1371,1080],[2013,1382,1080],[2005,1394,1050],[2026,1397,1080],[2035,1403,1200],[2045,1384,1300],[2066,1393,1180],[2052,1401,850],[2077,1400,1050],[2048,1422,1380],[2026,1432,1000],[2085,1351,1230],[2114,1382,1350],[1907,1381,1350],[1951,1371,900],[1965,1372,200],[1972,1373,1150],
[1930,1418,1050],[1948,1413,900],[1948,1414,1180],[1926,1435,1280],[1937,1434,1280],[1959,1432,1330],[1963,1447,650],[1946,1451,850],[2077,1447,1380],[2083,1452,800],[2110,1438,950],[2127,1443,600],[2133,1451,1100],[2056,1463,1230],[2122,1473,1050],[2145,1473,1000],[2142,1477,1300],
[2099,925,1000],[2116,922,1300],[2120,924,1130],[2144,934,1200],[2072,1007,1380],[2068,1006,1000],[2175,1007,1230],[2186,1004,1300],[2182,1014,1400],[2175,1016,900],[2070,1066,450],[2134,1081,900],[2157,1082,200],[2145,1081,1130],[2157,1099,1400],[2141,1090,1180],[2157,1111,1230],[2151,1106,750],[2073,1105,1050],[2098,1104,1050],[2112,1099,500],[2124,1098,1230],[2118,1097,950],[2136,1122,900],
[2062,1147,800],[2050,1152,1130],[2084,1167,1050],[2038,1175,1230],[2040,1183,1280],[2042,1186,100],[2009,1192,750],[1958,1168,1280],[1974,1154,1280],[1983,1150,1100],[1968,1168,1130],
[2118,1186,800],[2120,1191,1130],[2138,1215,1350],[2126,1216,1380],[2159,1215,800],[2155,1215,1130],[2073,1202,550],[2085,1213,800],[2108,1215,1150],[2103,1229,1230],[2110,1236,1280],[2134,1236,1130],[2085,1238,900],[2127,1254,1330],[2116,1252,800],[2153,1250,500],[2178,1254,700],[2092,1256,950],[2083,1258,150],[2120,1263,550],[2138,1271,1180],[2169,1266,1330],[2159,1279,1400],[2149,1284,1230],[2173,1275,1100],[2151,1264,500],[2083,1282,1300],[2075,1284,1000],[2095,1277,600],[2118,1291,1180],[2134,1298,800],[2124,1308,1230],[2162,1301,850],
[1982,1202,880],[1970,1212,1300],[1981,1223,1130],[1994,1229,1330],[2000,1229,300],[1966,1232,200],[1970,1250,1350],[1966,1257,1080],[2000,1264,750],[1977,1240,1130],[2031,1207,1230],[2050,1209,1300],[2056,1202,1100],[2035,1222,1230],[2032,1234,1400],[2050,1229,1180],[2021,1243,1050],[2042,1241,850],[2041,1252,50],
[2278,1166,1180],[2284,1175,1230],[2293,1186,1350],[2287,1193,1280],[2295,1179,650],[2291,1172,950]
];
const southWest = [
[534,1487,1400],[546,1487,1200],[552,1495,550],[625,1480,1230],[636,1499,1130],[648,1492,1350],[696,1486,800],[690,1499,1150],[699,1497,300],[680,1519,900],[698,1525,1350],[694,1536,1130],[713,1541,1330],[697,1552,1050],[746,1531,1050],[795,1528,800],[798,1537,850],[805,1552,1280],[823,1548,1300],[843,1520,1100],[840,1514,550],[876,1516,1050],[848,1543,1330],[891,1547,1350],[815,1489,1350],[758,1482,1380],
[877,1493,1380],[871,1493,250],[896,1510,1080],[912,1493,1330],[894,1497,1100],[927,1500,1130],[943,1504,1350],[931,1517,1330],[951,1495,1230],[976,1489,1000],[992,1491,1130],[949,1484,1380],[994,1513,850],[1003,1517,1400],[1015,1515,1230],[1019,1500,700],[1034,1496,1180],[1070,1480,1280],[1077,1514,1380],[1077,1526,1330],[1017,1552,800],[1026,1554,1330],[970,1558,900],[971,1567,1180],[973,1587,1050],[1078,1571,1380],[1071,1571,1150],
[668,1561,900],[671,1578,1100],[661,1581,1400],[688,1590,850],[678,1595,1130],[767,1568,1180],[783,1587,1350],[783,1595,300],[808,1595,1330],[854,1577,900],[721,1610,1330],[745,1612,950],[748,1612,1380],[767,1606,1230],[788,1614,550],[867,1597,700],[877,1600,1180],[878,1603,1350],[854,1618,950],[912,1585,1100],[922,1595,650],[910,1598,1050],[914,1616,1280],
[958,1625,1200],[972,1590,1050],[985,1604,1400],[975,1618,450],[977,1627,1130],[1025,1600,450],[1027,1600,1330],[1040,1598,1230],[1046,1619,550],[1039,1622,1350],[1030,1626,1130],[1021,1645,850],[1019,1652,1130],[1091,1626,1230],
[773,1646,950],[803,1638,1150],[841,1641,950],[821,1652,1000],[822,1656,1300],[844,1659,1150],[806,1667,1280],[834,1667,800],[778,1670,900],[719,1664,1400],[713,1664,100],[725,1664,900],[755,1693,1350],[832,1694,1350],
[931,1656,750],[937,1665,1050],[944,1669,1130],[962,1672,950],[969,1676,1350],[988,1672,950],[999,1672,550],[984,1688,1050],[988,1701,1130],[1015,1703,450],[1027,1715,1000],[1034,1712,1350],[1048,1728,1350],[1075,1746,1000],[1067,1650,1050],[1077,1646,1180],[1079,1669,750],[1089,1661,1380],[1020,1646,1150],
[951,1714,1350],[960,1724,1350],[975,1719,1230],[953,1741,700],[945,1748,1000],[908,1759,600],[922,1761,1330],[934,1760,1380],[894,1772,1350],[896,1767,750],[908,1783,1330],[910,1782,1100],[900,1802,1130],[910,1799,800],[867,1780,1280],[877,1780,950],
[795,1753,950],[801,1756,1050],[813,1764,450],[824,1772,1050],[824,1774,1300],[829,1766,1400],
[992,1794,1380],[1005,1798,1130],[1011,1809,1130],[1022,1802,1180],[1019,1796,800],
[1055,1899,1300],[1080,1904,1400],[1049,1929,1280],[1073,1945,1100],[1076,1950,950],[1067,1939,50],[1083,1917,1200],[1091,1874,1380]
];
const south = [
[1139,1499,1330],[1122,1508,1130],[1172,1486,800],[1185,1505,1380],[1203,1494,1100],[1227,1493,1230],[1244,1499,1180],[1246,1486,1330],[1205,1482,1330],[1137,1519,750],[1141,1521,1050],[1156,1530,1130],[1260,1516,1080],[1230,1521,650],[1216,1526,1150],[1214,1539,1080],[1181,1546,1100],[1192,1552,1200],[1244,1558,1300],[1253,1552,1350],[1260,1567,1330],[1139,1565,1380],[1095,1569,650],[1214,1577,880],[1209,1588,1050],[1170,1593,1000],[1179,1594,1380],[1114,1594,1380],[1121,1595,150],[1137,1610,1050],[1136,1613,1150],[1146,1615,1050],[1162,1608,1150],[1191,1622,1400],[1197,1619,1130],[1183,1624,100],[1246,1597,900],[1257,1605,950],[1260,1616,1080],[1096,1626,1330],[1134,1642,1230],[1171,1656,1350],[1228,1641,850],[1240,1641,1050],[1102,1666,1130],[1092,1663,1280],[1125,1693,1050],[1127,1709,1150],[1123,1721,1180],[1137,1721,1000],[1136,1729,1380],[1170,1687,1230],[1178,1693,1230],[1185,1687,1280],[1226,1680,1230],[1232,1678,1300],[1238,1682,880],[1227,1693,1400],[1258,1679,1350],[1211,1716,1330],[1241,1717,1230],[1237,1714,500],[1265,1727,700],[1271,1725,1050],[1282,1727,1400],
[1179,1752,900],[1187,1745,1130],[1218,1748,800],[1216,1761,700],[1234,1756,500],[1249,1748,1350],[1227,1768,1330],[1244,1767,1130],[1253,1773,1330],[1183,1776,1000],[1194,1776,1350],[1223,1785,1130],[1132,1791,1050],[1130,1820,1150],[1134,1837,1380],[1141,1838,1050],
[1186,1848,1150],[1216,1858,500],[1213,1865,1400],[1238,1847,1330],[1178,1872,1300],[1178,1878,1050],[1152,1878,800],[1153,1885,1400],[1150,1876,1080],[1125,1889,1230],[1118,1906,1050],[1106,1911,800],[1096,1880,1350],[1094,1891,1280],[1106,1891,1180],[1107,1872,1200],[1092,1902,1350],[1097,1922,1130],[1094,1945,850],
[1251,1881,650],[1232,1883,1330],[1241,1889,1300],[1246,1900,1330],[1277,1882,1330],[1197,1898,1000],[1192,1909,1150],[1218,1904,1130],[1218,1910,1350],[1234,1913,1250],[1232,1922,1230],[1248,1926,1180],[1273,1919,1000],[1298,1927,1380],[1302,1935,1180],[1294,1928,950],[1209,1939,1330],[1231,1940,1380],[1244,1950,1130],[1230,1955,1130],[1170,1948,1130],[1181,1951,650],[1185,1951,200],[1207,1948,1050],[1236,1986,1350],
[1321,1903,850],[1333,1902,1000],[1343,1898,1180],[1353,1900,1230],[1360,1905,950],[1362,1898,1180],[1373,1897,1280],[1358,1893,300],
[1451,1938,1230],[1448,1955,1300],[1460,1954,1280],[1467,1957,1300],[1455,1965,850],
[1579,1939,1350],[1580,1933,1180],[1574,1950,1250],[1582,1957,1380],[1594,1965,1330],
[1504,1865,1130],[1530,1863,1300],[1530,1857,950],[1528,1883,1330],[1537,1880,750],[1524,1881,500],
[1606,1910,1050],[1624,1903,1330],[1639,1894,1130],[1631,1896,950],
[1685,1887,1150],[1683,1893,850],[1693,1887,1230],[1701,1898,1180],[1700,1844,650],
[1427,1834,1300],[1435,1846,800],[1442,1857,450],[1455,1858,950],[1456,1830,1050],[1463,1826,850],[1469,1835,1380],
[1347,1799,1280],[1296,1815,1300],[1288,1828,1350],[1286,1832,1230],
[1398,1776,1130],[1412,1782,1130],[1425,1792,1180],[1408,1799,1230],[1415,1785,800],
[1475,1795,1050],[1487,1795,800],[1498,1808,1130],[1504,1776,1380],[1498,1780,100],
[1565,1805,1280],[1572,1806,1230],[1613,1804,1380],[1617,1793,1130],[1625,1782,700],[1627,1761,800],[1642,1759,700],[1644,1756,400],[1684,1798,1380],[1695,1787,1000],
[1563,1746,1280],[1575,1754,1380],[1590,1724,1180],[1602,1719,950],[1681,1716,1100],
[1469,1743,1280],[1474,1738,1330],[1465,1739,1050],[1487,1751,700],[1504,1748,1230],[1515,1743,1400],[1514,1756,450],[1531,1733,1300],[1531,1719,1350],
[1493,1699,1200],[1489,1696,1050],[1487,1715,700],[1502,1713,1350],[1498,1723,1050],[1515,1706,1330],[1502,1706,600],[1512,1717,550],
[1552,1702,700],[1563,1675,1330],[1567,1669,300],[1555,1680,500],[1609,1672,1380],[1547,1653,1000],[1489,1661,1380],[1485,1654,1200],[1514,1656,1330],[1512,1665,1230],[1574,1633,1000],
[1647,1658,1080],[1652,1685,800],[1677,1676,1050],[1664,1640,1080],[1691,1654,550],[1697,1658,1000],
[1606,1624,1050],[1607,1617,1380],[1631,1618,1380],[1633,1622,300],[1625,1619,1100],[1687,1613,1300],
[1543,1613,1280],[1497,1611,1100],[1506,1610,1130],[1502,1602,1050],[1506,1582,850],[1514,1591,100],[1497,1595,1050],[1508,1565,1350],[1528,1563,1380],[1518,1571,100],[1526,1571,100],[1533,1534,900],[1526,1543,850],[1514,1548,950],[1506,1554,1050],
[1547,1587,1050],[1574,1571,1100],[1574,1589,1380],[1568,1595,550],[1607,1589,1150],[1617,1592,1050],[1602,1589,900],[1591,1555,1330],[1607,1554,550],[1614,1563,1300],[1605,1570,800],[1633,1550,550],[1639,1578,1000],[1646,1595,1300],[1664,1603,1050],[1654,1561,1380],[1666,1567,1300],[1670,1585,1380],[1658,1574,1230],[1683,1579,1280],[1679,1593,600],[1695,1569,1180],[1697,1595,1000],
[1658,1539,750],[1682,1548,1180],[1637,1517,1100],[1635,1508,650],[1627,1524,300],[1660,1515,1150],[1657,1490,1330],[1693,1504,1400],[1683,1500,1150],[1600,1523,1380],[1568,1534,1130],[1572,1541,500],[1563,1535,650],
[1579,1495,1050],[1511,1497,1350],[1544,1495,1050],[1545,1508,1230],[1537,1515,900],[1491,1524,1080],[1498,1535,1280],[1457,1563,880],[1458,1569,1330],[1450,1565,600],[1434,1530,950],[1461,1511,1050],[1465,1509,1280],[1438,1489,1300],[1416,1581,1050],[1430,1602,1000],[1458,1607,900],[1452,1610,450],[1453,1634,1280],[1446,1635,400],[1419,1646,1380],[1401,1674,800],[1437,1680,1000],[1439,1711,750],[1409,1606,1150],[1409,1615,1350],[1395,1635,950],[1384,1620,950],[1381,1600,1080],[1416,1547,1330],[1408,1499,1400],[1411,1513,1230],[1389,1525,1230],[1378,1537,950],[1379,1560,1350],[1389,1574,1130],[1351,1546,1080],[1360,1582,1180],[1356,1513,1100],[1359,1494,1280],[1345,1489,1050],[1380,1482,1230],
[1320,1497,1180],[1331,1515,1050],[1300,1519,1350],[1298,1510,950],[1310,1543,1400],[1306,1550,1300],[1330,1559,1380],[1323,1558,1150],[1339,1563,150],[1297,1585,1280],[1338,1576,1050],[1334,1589,1130],[1355,1602,650],[1355,1612,1350],[1349,1615,800],[1366,1630,1380],[1300,1621,1380],[1306,1621,1000],[1333,1625,1350],[1320,1643,1280],[1355,1650,1230],[1347,1651,1150],[1364,1645,1400],[1380,1648,1380],[1335,1661,100],[1342,1677,900],[1369,1669,1130],[1275,1653,1280],[1288,1658,1050],[1300,1672,1380],[1306,1671,1050],
[1353,1696,850],[1368,1691,500],[1364,1701,1180],[1375,1706,1300],[1395,1717,1380],[1397,1711,1100],[1367,1722,800],[1326,1708,1130],[1333,1721,1230],[1323,1721,550],[1322,1739,1380],[1341,1711,500]
];
const bottomEdge = [
[1366,2046,1350],[1384,2037,1400],[1401,2039,1230],[1389,2039,1100],[1364,2039,400],[1397,2028,300],[1491,2044,1100],[1495,2044,1050],[1497,2046,700]
];
const southEast = [
[1710,1487,1350],[1719,1489,850],[1754,1492,1350],[1751,1489,400],[1793,1487,1300],[1834,1480,750],[1885,1493,800],[1900,1486,1280],[1896,1502,1050],[1898,1510,600],[1726,1519,1300],[1728,1530,650],[1705,1531,1050],[1773,1522,1130],[1786,1526,1350],[1795,1528,500],[1826,1521,1180],[1861,1514,1100],[1957,1517,1380],[1963,1511,1150],[1966,1517,880],[1953,1517,1200],[1708,1554,900],[1708,1548,400],[1729,1560,1100],[1739,1561,1280],[1722,1570,1400],[1741,1572,1200],[1712,1584,500],[1716,1591,1080],[1733,1585,1130],[1745,1592,1330],[1742,1598,1130],[1706,1587,800],[1702,1604,1050],[1764,1563,1130],[1770,1571,1330],[1780,1567,900],[1778,1585,1400],[1774,1593,700],[1791,1585,1050],[1803,1585,1380],[1809,1579,1080],[1802,1576,550],
[1854,1560,1350],[1901,1546,1300],[1908,1556,1280],[1915,1543,1230],[1925,1547,1130],[1924,1537,750],[1930,1538,800],[1966,1545,1330],[1968,1550,1150],[2036,1557,1230],[2097,1516,1380],[2092,1523,500],[2108,1525,1400],[2119,1517,1180],[2077,1542,1280],[2085,1543,1050],[2067,1559,1050],[2060,1568,750],[2084,1561,1230],[2074,1577,1400],[2096,1580,1150],[2072,1585,1050],[2088,1593,1130],[2056,1595,1400],[2052,1599,800],
[1887,1595,1380],[1856,1604,500],[1842,1624,1280],[1758,1625,800],[1746,1634,1050],[1719,1619,1350],[1708,1629,1180],[1869,1632,1130],[1875,1630,950],[1874,1645,1130],[1891,1645,1280],[1873,1659,1230],[1880,1661,850],[1849,1650,1300],[1851,1663,1400],[1834,1671,1380],[1833,1664,1050],[1803,1664,1080],[1751,1668,1230],[1758,1669,200],[1730,1672,950],[1711,1664,1000],[1702,1658,750],
[1948,1619,1400],[1957,1626,1180],[1946,1626,800],[1966,1626,1050],[1968,1620,650],
[1987,1669,1350],[1990,1676,1250],[1984,1667,950],[1988,1678,600],
[1778,1721,1280],[1782,1728,1130],[1789,1719,750],[1793,1724,550],[1791,1726,950],
[1859,1760,1050],[1854,1759,750],[1870,1753,1230],[1873,1750,850],
[1938,1752,1300],[1938,1760,1180],
[2046,1748,1100],[2052,1745,800],[2046,1759,1400],[2042,1752,350],
[1707,1773,1350],[1721,1754,1000],[1721,1763,1130],[1725,1772,400],[1702,1783,1180],[1782,1793,1180],
[1712,1848,1080],[1721,1847,750],[1702,1844,550],[1767,1843,900],[1820,1849,1130],[1781,1859,350],[1772,1868,1400],[1785,1867,1380],[1788,1876,850],[1782,1880,1130],[1782,1896,1280],[1776,1887,700],[1853,1851,1380],[1846,1852,1050],[1861,1867,1400],[1867,1865,250],[1863,1874,900],[1850,1863,800],[1705,1900,1130],[1702,1881,150]
];

const colorbarTicks = [0, 200, 400, 600, 800, 1000, 1200, 1400];
const colorbarMax = 1415;
const viridis = ['#440154', '#482475', '#414487', '#355f8d', '#2a788e', '#21918c', '#22a884', '#44bf70', '#7ad151', '#bddf26', '#fde725'];

const FONT = '"DejaVu Sans"';

function hexToRgb(h) {
  return [1, 3, 5].map(i => parseInt(h.slice(i, i + 2), 16));
}

function viridisColor(v) {
  const t = Math.min(v / colorbarMax, 1) * (viridis.length - 1);
  const i = Math.min(Math.floor(t), viridis.length - 2);
  const a = hexToRgb(viridis[i]), b = hexToRgb(viridis[i + 1]);
  const c = a.map((x, k) => Math.round(x + (b[k] - x) * (t - i)));
  return `rgb(${c[0]},${c[1]},${c[2]})`;
}

// low values go first so the yellow points end up on top, as in the picture
const allPoints = [...northWest, ...northEast, ...west, ...centre, ...coreCluster, ...east, ...southWest, ...south, ...bottomEdge, ...southEast]
  .sort((a, b) => a[2] - b[2]);

new Chart(document.getElementById('embedChart'), {
  type: 'scatter',
  data: {
    datasets: [{
      data: allPoints.map(p => ({ x: p[0], y: p[1] })),
      pointBackgroundColor: allPoints.map(p => viridisColor(p[2])),
      pointBorderWidth: 0,
      pointRadius: 10
    }]
  },
  options: {
    responsive: false,
    animation: false,
    devicePixelRatio: 1,
    layout: { padding: { left: 400, right: 16, top: 175, bottom: 264 } },
    plugins: {
      legend: { display: false },
      tooltip: { enabled: false },
      title: {
        display: true,
        text: 't-SNE visualization of embeddings',
        color: '#000',
        font: { family: FONT, size: 83.3, weight: 'normal' },
        padding: { top: 0, bottom: 13 }
      }
    },
    scales: {
      x: { display: false, min: 400, max: 2384 },
      y: { display: false, min: 288, max: 2136, reverse: true }
    }
  }
});

const colorbarOutline = {
  id: 'colorbarOutline',
  afterDraw(chart) {
    const a = chart.chartArea, c = chart.ctx;
    c.save();
    c.lineWidth = 5.5;
    c.strokeStyle = '#000';
    c.strokeRect(a.left, a.top, a.right - a.left, a.bottom - a.top);
    c.restore();
  }
};

new Chart(document.getElementById('colorbar'), {
  type: 'bar',
  data: {
    labels: [''],
    datasets: [{
      data: [colorbarMax],
      barPercentage: 1,
      categoryPercentage: 1,
      backgroundColor(ctx) {
        const a = ctx.chart.chartArea;
        if (!a) return '#000';
        const g = ctx.chart.ctx.createLinearGradient(0, a.bottom, 0, a.top);
        viridis.forEach((c, i) => g.addColorStop(i / (viridis.length - 1), c));
        return g;
      }
    }]
  },
  options: {
    responsive: false,
    animation: false,
    devicePixelRatio: 1,
    layout: { padding: { left: 108, top: 288, bottom: 264 } },
    plugins: { legend: { display: false }, tooltip: { enabled: false } },
    scales: {
      x: { display: false },
      y: {
        position: 'right',
        min: 0,
        max: colorbarMax,
        afterFit(scale) { scale.width = 600; },
        afterBuildTicks(scale) { scale.ticks = colorbarTicks.map(v => ({ value: v })); },
        border: { display: false },
        grid: { drawOnChartArea: false, drawTicks: true, tickLength: 22, tickWidth: 5.5, tickColor: '#000' },
        ticks: {
          color: '#000',
          padding: 29,
          labelOffset: 8,
          autoSkip: false,
          callback: v => String(v),
          font: { family: FONT, size: 69.4 }
        }
      }
    }
  },
  plugins: [colorbarOutline]
});
</script>
</body>
</html>
